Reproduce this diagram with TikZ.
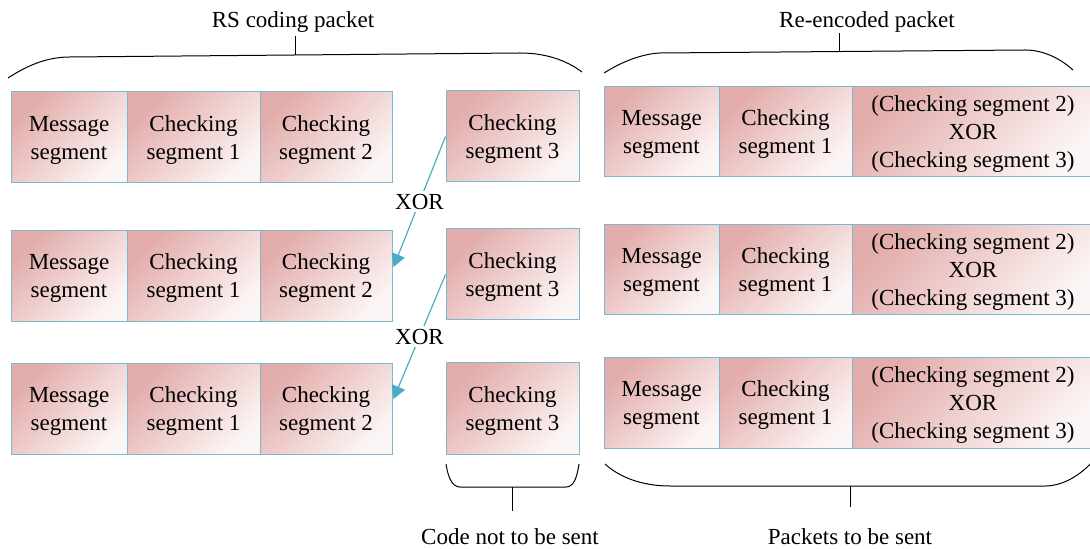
\documentclass[tikz,border=0pt]{standalone}
\usepackage{fontspec}
\setmainfont{Liberation Serif}
\usetikzlibrary{arrows.meta,calc}
\definecolor{segdark}{RGB}{226,172,170}
\definecolor{seglight}{RGB}{252,245,245}
\definecolor{segborder}{RGB}{122,184,204}
\definecolor{xorblue}{RGB}{75,172,198}
\begin{document}
\begin{tikzpicture}[x=0.5pt,y=-0.5pt,
  seg/.style={draw=segborder, line width=0.5pt, top color=segdark, bottom color=seglight,
    shading angle=45, align=center, inner sep=0pt,
    font=\fontsize{11.5}{14}\selectfont, text depth=-1.5pt},
  msgbox/.style={seg, minimum width=58pt, minimum height=45.5pt},
  ckbox/.style={seg, minimum width=66.5pt, minimum height=45.5pt},
  rmsg/.style={seg, minimum width=57.5pt, minimum height=45pt},
  rck/.style={seg, minimum width=62pt, minimum height=45pt},
  rwide/.style={seg, minimum width=121pt, minimum height=45pt},
  bracel/.style={draw=black, line width=0.5pt},
  lbl/.style={font=\fontsize{11.5}{14}\selectfont, inner sep=1pt},
  xorlabel/.style={font=\fontsize{11.5}{14}\selectfont, fill=white, inner sep=1.5pt},
  xorarrow/.style={draw=xorblue, line width=0.6pt, -{Triangle[length=6.5pt,width=7pt]}}
]
\useasboundingbox (0,0) rectangle (1090,549);

% left RS coding packets
\foreach \r/\y/\yy in {1/137.5/136.5, 2/276/274.5, 3/409/408.5}{
  \node[msgbox] (m\r) at (69,\y) {Message\\segment};
  \node[ckbox, minimum width=66.5pt] (c\r1) at (193.5,\y) {Checking\\segment 1};
  \node[ckbox, minimum width=66pt] (c\r2) at (326,\y) {Checking\\segment 2};
  \node[ckbox] (s\r3) at (512.5,\yy) {Checking\\segment 3};
}

% right re-encoded packets
\foreach \r/\y in {1/132, 2/270, 3/403}{
  \node[rmsg] (rm\r) at (661.5,\y) {Message\\segment};
  \node[rck, minimum width=66.5pt] (rc\r) at (785.5,\y) {Checking\\segment 1};
  \node[rwide] (rx\r) at (973,\y) {(Checking segment 2)\\XOR\\(Checking segment 3)};
}

% XOR arrows
\draw[xorarrow] (s13.west) -- node[xorlabel, pos=0.5] {XOR} ($(c22.east)+(1,-9)$);
\draw[xorarrow] (s23.west) -- node[xorlabel, pos=0.5] {XOR} ($(c32.east)+(1,-10)$);

% top-left brace
\draw[bracel] (8,78) .. controls (25,67) and (45,57) .. (70,57) -- (520,53) .. controls (545,53) and (566,60) .. (582,72);
\node[lbl] (t1) at (293,22) {RS coding packet};
\draw[bracel] (295,55) -- (295,36);

% top-right brace
\draw[bracel] (604,73) .. controls (620,63) and (640,54) .. (660,53) -- (1025,50) .. controls (1045,50) and (1062,60) .. (1073,70);
\node[lbl] (t2) at (867,22) {Re-encoded packet};
\draw[bracel] (839,52) -- (839,33);

% bottom small brace
\draw[bracel] (446,464) .. controls (448,477) and (452,487) .. (460,487) -- (566,487) .. controls (574,487) and (577,477) .. (579,464);
\draw[bracel] (512,487) -- (512,511);
\node[lbl] (b1) at (510,537) {Code not to be sent};

% bottom big brace
\draw[bracel] (605,464) .. controls (618,476) and (640,486) .. (670,486) -- (1045,486) .. controls (1062,486) and (1080,476) .. (1094,460);
\draw[bracel] (850,486) -- (850,507);
\node[lbl] (b2) at (850,537) {Packets to be sent};
\end{tikzpicture}
\end{document}
